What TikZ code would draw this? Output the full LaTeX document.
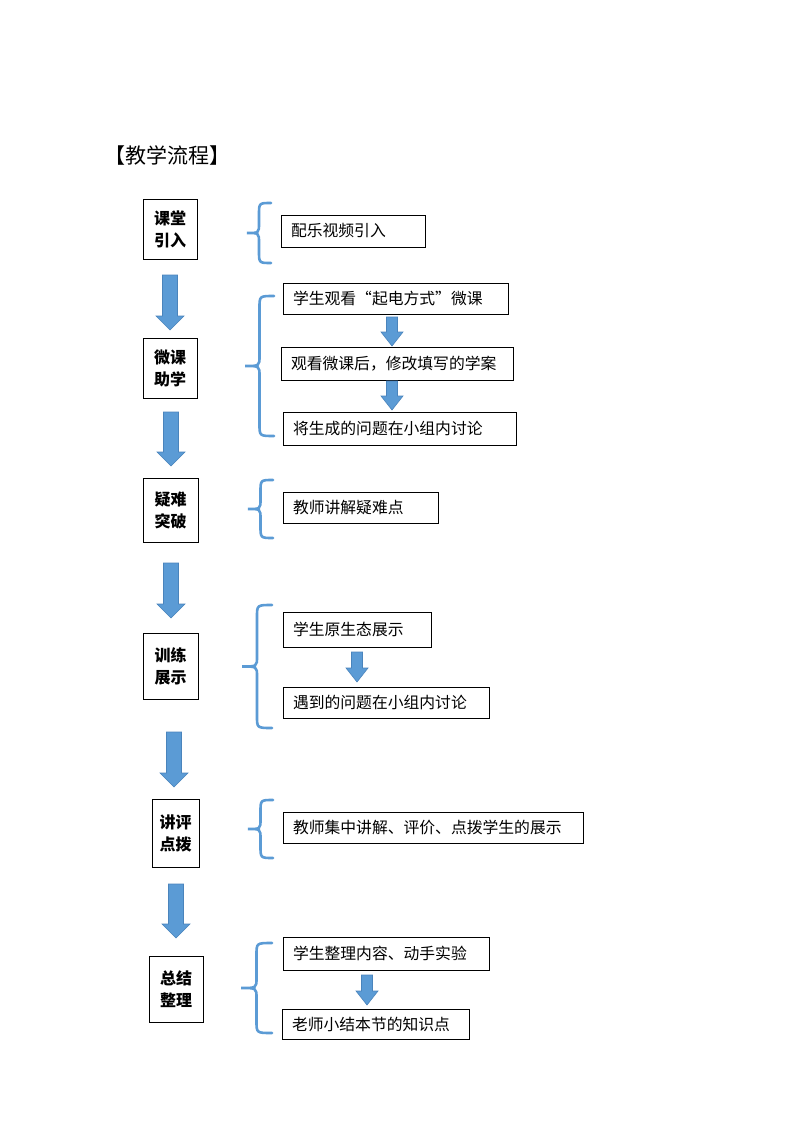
\documentclass[tikz,border=0pt]{standalone}
\usepackage{fontspec}
\setmainfont{Noto Sans CJK SC}
\definecolor{arrowfill}{HTML}{5B9BD5}
\definecolor{arrowline}{HTML}{4A84BC}
\tikzset{
  lbox/.style={draw, line width=0.9pt, inner sep=0pt, align=center, font=\fontsize{16}{22}\selectfont\bfseries},
  rbox/.style={draw, line width=0.9pt, inner xsep=10pt, inner ysep=0pt, align=left, font=\fontsize{15.8}{18}\selectfont},
  blockarrow/.style={fill=arrowfill, draw=arrowline, line width=0.6pt},
  bracestyle/.style={draw=arrowfill, line width=2.6pt, line cap=round}
}
% cx, top, headstart, tip, half shaft, half head
\newcommand{\blkarrow}[6]{\path[blockarrow] ({#1-#5},#2) -- ({#1+#5},#2) -- ({#1+#5},#3) -- ({#1+#6},#3) -- (#1,#4) -- ({#1-#6},#3) -- ({#1-#5},#3) -- cycle;}
% L, R, T, B
\newcommand{\cbrace}[4]{\path[bracestyle] (#2,#3) .. controls ({(#1+#2)/2},#3) .. ({(#1+#2)/2},{#3+12}) -- ({(#1+#2)/2},{(#3+#4)/2-10}) .. controls ({(#1+#2)/2},{(#3+#4)/2}) .. (#1,{(#3+#4)/2}) .. controls ({(#1+#2)/2},{(#3+#4)/2}) .. ({(#1+#2)/2},{(#3+#4)/2+10}) -- ({(#1+#2)/2},{#4-12}) .. controls ({(#1+#2)/2},#4) .. (#2,#4);}
\begin{document}
\begin{tikzpicture}[x=1pt,y=-1pt]
\useasboundingbox[fill=white] (0,0) rectangle (794,1123);

\node[anchor=west, inner sep=0pt, font=\fontsize{21}{24}\selectfont] (title) at (104,155) {【教学流程】};

% left boxes
\node[lbox, minimum width=54pt, minimum height=60pt] (l1) at (170,229) {课堂\\引入};
\node[lbox, minimum width=54pt, minimum height=60pt] (l2) at (170,368) {微课\\助学};
\node[lbox, minimum width=55pt, minimum height=64pt] (l3) at (170.5,510) {疑难\\突破};
\node[lbox, minimum width=55pt, minimum height=66pt] (l4) at (170.5,666) {训练\\展示};
\node[lbox, minimum width=47pt, minimum height=68pt] (l5) at (175.5,833) {讲评\\点拨};
\node[lbox, minimum width=54pt, minimum height=66pt] (l6) at (176,989) {总结\\整理};

% big arrows
\blkarrow{170}{275}{316}{330}{7.5}{14}
\blkarrow{171}{412}{452}{466}{7.5}{14}
\blkarrow{171}{563}{604}{618}{7.5}{14}
\blkarrow{174}{732}{773}{787}{7.5}{14}
\blkarrow{176}{884}{924}{938}{7.5}{14}

% right boxes
\node[rbox, minimum width=144pt, minimum height=32pt, text width=124pt] (r1) at (353,231) {配乐视频引入};
\node[rbox, minimum width=225pt, minimum height=31pt, text width=205pt] (r2) at (395.5,298.5) {学生观看“起电方式”微课};
\node[rbox, minimum width=230pt, minimum height=33pt, text width=212pt] (r3) at (397,363.5) {观看微课后，修改填写的学案};
\node[rbox, minimum width=233pt, minimum height=33pt, text width=213pt] (r4) at (399.5,428.5) {将生成的问题在小组内讨论};
\node[rbox, minimum width=155pt, minimum height=31pt, text width=135pt] (r5) at (360.5,507.5) {教师讲解疑难点};
\node[rbox, minimum width=148pt, minimum height=35pt, text width=128pt] (r6) at (357,629.5) {学生原生态展示};
\node[rbox, minimum width=206pt, minimum height=31pt, text width=186pt] (r7) at (386,702.5) {遇到的问题在小组内讨论};
\node[rbox, minimum width=300pt, minimum height=31pt, text width=280pt] (r8) at (433,827.5) {教师集中讲解、评价、点拨学生的展示};
\node[rbox, minimum width=206pt, minimum height=33pt, text width=186pt] (r9) at (386,953.5) {学生整理内容、动手实验};
\node[rbox, minimum width=187pt, minimum height=30pt, text width=167pt] (r10) at (375.5,1024) {老师小结本节的知识点};

% small arrows
\blkarrow{392}{317}{332}{346}{5.5}{11}
\blkarrow{392}{381}{396}{410}{5.5}{11}
\blkarrow{357}{652}{668}{682}{5.5}{11}
\blkarrow{367}{975}{991}{1005}{5.5}{11}

% braces
\cbrace{247}{271}{203}{263}
\cbrace{245}{274}{296}{436}
\cbrace{248}{273}{480}{538}
\cbrace{242}{272}{605}{728}
\cbrace{248}{273}{800}{858}
\cbrace{241}{272}{943}{1033}
\end{tikzpicture}
\end{document}
